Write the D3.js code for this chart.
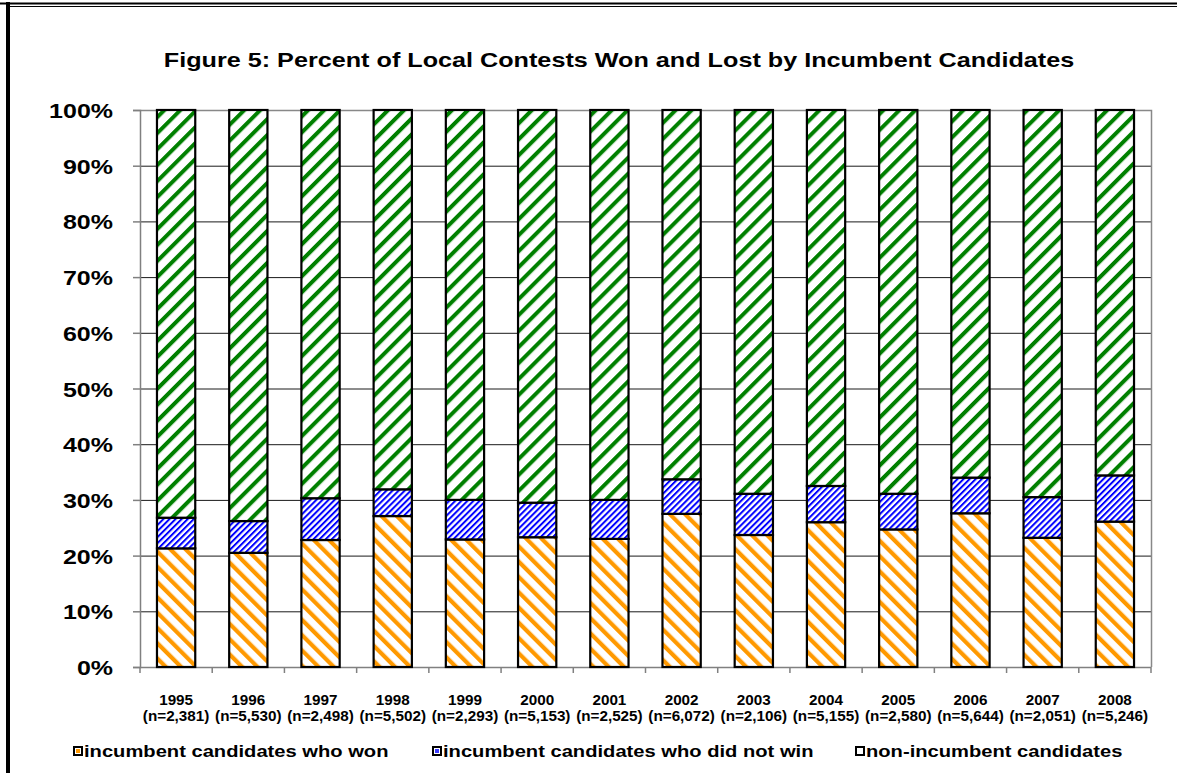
<!DOCTYPE html>
<html>
<head>
<meta charset="utf-8">
<script src="https://cdn.jsdelivr.net/npm/d3@7"></script>
<style>
  body { margin: 0; background: #fff; }
  text { font-family: "Liberation Sans", Arial, sans-serif; font-weight: bold; fill: #000; }
</style>
</head>
<body>
<script>
// values (percent of contests)
var years = ["1995", "1996", "1997", "1998", "1999", "2000", "2001",
	"2002", "2003", "2004", "2005", "2006", "2007", "2008"];
var sampleSizes = ["(n=2,381)", "(n=5,530)", "(n=2,498)", "(n=5,502)", "(n=2,293)",
	"(n=5,153)", "(n=2,525)", "(n=6,072)", "(n=2,106)", "(n=5,155)", "(n=2,580)",
	"(n=5,644)", "(n=2,051)", "(n=5,246)"];
var wonPct = [21.3, 20.5, 22.8, 27.1, 22.9, 23.3, 23.0, 27.5, 23.7, 26.0, 24.7, 27.6, 23.2, 26.1];
var lostPct = [5.5, 5.7, 7.5, 4.8, 7.1, 6.2, 7.0, 6.2, 7.4, 6.5, 6.4, 6.4, 7.3, 8.3];
var nonIncPct = [73.2, 73.8, 69.7, 68.1, 70.0, 70.5, 70.0, 66.3, 68.9, 67.5, 68.9, 66.0, 69.5, 65.6];
var yTicks = [0, 10, 20, 30, 40, 50, 60, 70, 80, 90, 100];
var seriesNames = ["incumbent candidates who won", "incumbent candidates who did not win",
	"non-incumbent candidates"];
var titleText = "Figure 5: Percent of Local Contests Won and Lost by Incumbent Candidates";

var W = 1177, H = 773;
var plot = {left: 140, right: 1151, top: 110, bottom: 667};

var svg = d3.select("body").append("svg")
	.attr("width", W)
	.attr("height", H);

// hatch patterns
var defs = svg.append("defs");
function hatch(id, color, period, stripe, angle) {
	var p = defs.append("pattern")
		.attr("id", id)
		.attr("patternUnits", "userSpaceOnUse")
		.attr("width", period)
		.attr("height", period)
		.attr("patternTransform", "rotate(" + angle + ")");
	p.append("rect").attr("width", period).attr("height", period).attr("fill", "#fff");
	p.append("rect").attr("width", stripe).attr("height", period).attr("fill", color);
}
hatch("hWon", "#ff9900", 10.8, 4.2, -45);
hatch("hLost", "#0000ff", 4.3, 2.0, 45);
hatch("hNon", "#008000", 11.3, 4.0, 45);
var fills = ["url(#hWon)", "url(#hLost)", "url(#hNon)"];

// outer frame
svg.append("line").attr("x1", 0).attr("x2", W).attr("y1", 3.5).attr("y2", 3.5)
	.attr("stroke", "#000").attr("stroke-width", 2);
svg.append("line").attr("x1", 10).attr("x2", W).attr("y1", 6.5).attr("y2", 6.5)
	.attr("stroke", "#000").attr("stroke-width", 1);
svg.append("line").attr("x1", 8).attr("x2", 8).attr("y1", 2).attr("y2", H)
	.attr("stroke", "#000").attr("stroke-width", 4);

// stretched text helper (the source chart is a bit wide)
function addText(x, y, str, size, sx, anchor) {
	return svg.append("text")
		.attr("transform", "translate(" + x + "," + y + ") scale(" + sx + ",1)")
		.attr("text-anchor", anchor || "middle")
		.style("font-size", size + "px")
		.text(str);
}

addText(619, 67, titleText, 20, 1.26);

var x = d3.scaleBand()
	.domain(years)
	.range([plot.left, plot.right])
	.paddingInner(0.47)
	.paddingOuter(0.235);

var y = d3.scaleLinear()
	.domain([0, 100])
	.range([plot.bottom, plot.top]);

// gridlines
svg.append("g").selectAll("line")
	.data(yTicks.filter(function(d) { return d > 0 && d < 100; }))
	.enter().append("line")
	.attr("x1", plot.left).attr("x2", plot.right)
	.attr("y1", function(d) { return y(d) + 0.5; })
	.attr("y2", function(d) { return y(d) + 0.5; })
	.attr("stroke", "#1a1a1a")
	.attr("stroke-width", 1);

// plot border (top / right)
svg.append("path")
	.attr("d", "M" + plot.left + "," + (plot.top + 0.5) + "H" + (plot.right + 0.5) + "V" + plot.bottom)
	.attr("fill", "none")
	.attr("stroke", "#888")
	.attr("stroke-width", 1.5);

// y axis
var yAxis = d3.axisLeft(y)
	.tickValues(yTicks)
	.tickSize(7)
	.tickFormat(function(d) { return ""; });
var yg = svg.append("g")
	.attr("transform", "translate(" + plot.left + ",0)")
	.call(yAxis);
yg.selectAll("path, line").attr("stroke", "#808080").attr("stroke-width", 1.5);

yTicks.forEach(function(t) {
	addText(113, y(t) + 8, t + "%", 21, 1.19, "end");
});

// x axis with ticks at category boundaries
var bounds = years.map(function(d) { return x(d) - x.step() * x.paddingInner() / 2; });
bounds.push(plot.right);
svg.append("line")
	.attr("x1", plot.left).attr("x2", plot.right)
	.attr("y1", plot.bottom + 0.5).attr("y2", plot.bottom + 0.5)
	.attr("stroke", "#808080").attr("stroke-width", 1.5);
svg.append("g").selectAll("line")
	.data(bounds)
	.enter().append("line")
	.attr("x1", function(d) { return d; })
	.attr("x2", function(d) { return d; })
	.attr("y1", plot.bottom)
	.attr("y2", plot.bottom + 6)
	.attr("stroke", "#808080")
	.attr("stroke-width", 1.5);

years.forEach(function(yr, i) {
	var cx = x(yr) + x.bandwidth() / 2;
	addText(cx, 705, yr, 14, 1.09);
	addText(cx, 721, sampleSizes[i], 14, 1.09);
});

// stacked bars
var rows = years.map(function(yr, i) {
	return {year: yr, won: wonPct[i], lost: lostPct[i], non: nonIncPct[i]};
});
var stack = d3.stack().keys(["won", "lost", "non"]);
var layers = stack(rows);

svg.append("g").selectAll("g")
	.data(layers)
	.enter().append("g")
	.attr("fill", function(d, i) { return fills[i]; })
	.selectAll("rect")
	.data(function(d) { return d; })
	.enter().append("rect")
	.attr("x", function(d) { return x(d.data.year); })
	.attr("width", x.bandwidth())
	.attr("y", function(d) { return y(d[1]); })
	.attr("height", function(d) { return y(d[0]) - y(d[1]); })
	.attr("stroke", "#000")
	.attr("stroke-width", 2.2);

// legend
var legendItems = [
	{x: 73, name: seriesNames[0], fill: "#ff9900"},
	{x: 432, name: seriesNames[1], fill: "#3b3bff"},
	{x: 855, name: seriesNames[2], fill: "#fff"}
];
legendItems.forEach(function(d) {
	svg.append("rect")
		.attr("x", d.x + 1).attr("y", 747)
		.attr("width", 8).attr("height", 8)
		.attr("fill", d.fill)
		.attr("stroke", "#000")
		.attr("stroke-width", 2);
	svg.append("rect")
		.attr("x", d.x + 2.5).attr("y", 748.5)
		.attr("width", 5).attr("height", 5)
		.attr("fill", "none")
		.attr("stroke", "#fff")
		.attr("stroke-width", d.fill === "#fff" ? 0 : 1);
	addText(d.x + 11, 757, d.name, 16, 1.26, "start");
});
</script>
</body>
</html>
